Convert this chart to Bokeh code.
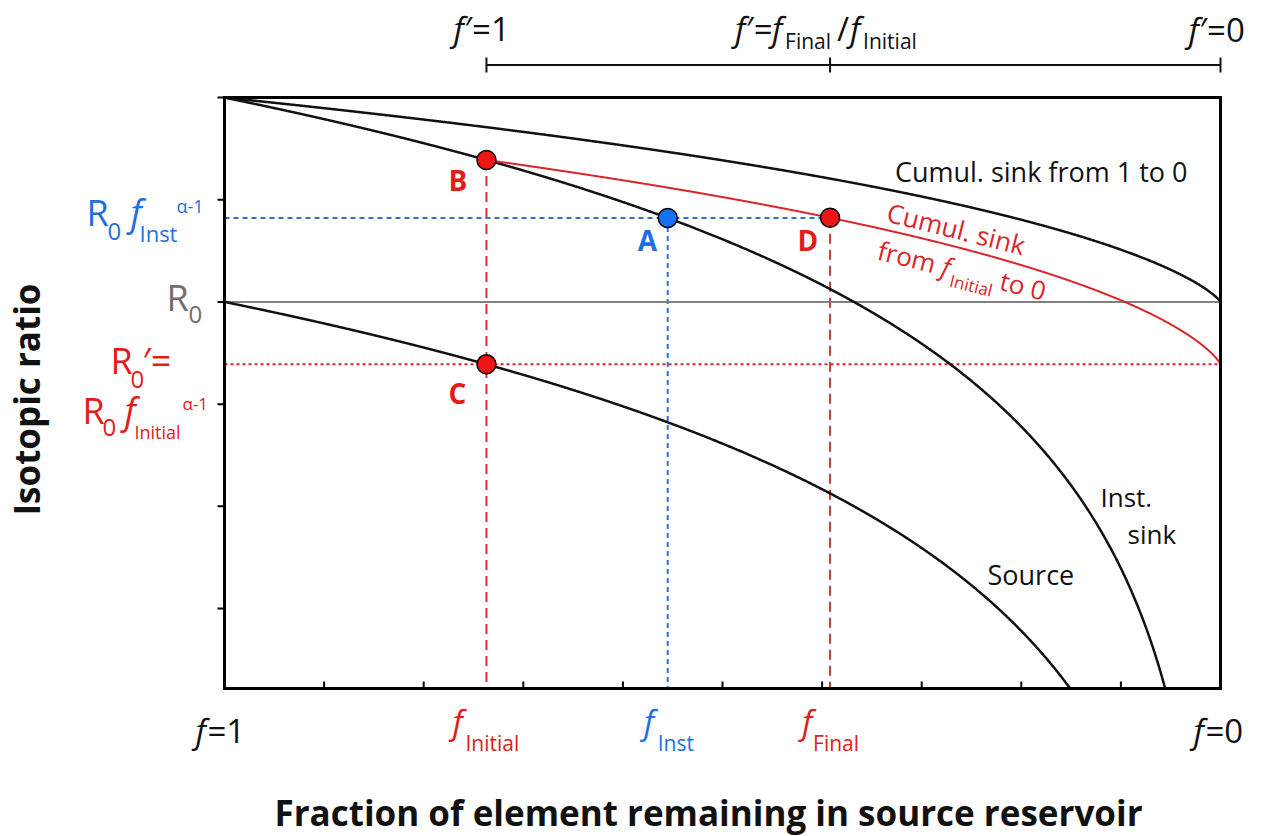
import numpy as np
from bokeh.plotting import figure
from bokeh.models import Range1d, Label
from bokeh.embed import file_html
from bokeh.resources import INLINE

# ---- Rayleigh distillation model -------------------------------------------
ALPHA = 1.001        # fractionation factor between sink and source
R0 = 1.0             # isotope ratio of the source before any removal
F_INITIAL = 0.737    # fraction remaining when the partial extraction starts
F_INST = 0.555       # fraction remaining at the instantaneous point A
F_FINAL = 0.392      # fraction remaining when the partial extraction stops

# ---- axes (x = 1 - f, y = 1000 ln(R / R0)) --------------------------------
Y_TOP = 1.0
Y_BOTTOM = -1.891
Y_TICKS = [1.0, 0.5, 0.0, -0.5, -1.0, -1.5]
X_TICKS = [0.1, 0.2, 0.3, 0.4, 0.5, 0.6, 0.7, 0.8, 0.9]
FPRIME_TICKS = [1.0, F_FINAL / F_INITIAL, 0.0]

FONT = "Open Sans"
BLACK = "#111111"
GREY_LINE = "#808080"
GREY_TEXT = "#6f6f6f"
BLUE_TEXT = "#1f6fe0"
BLUE_LINE = "#2b6fd8"
BLUE_DOT = "#1672f2"
RED_TEXT = "#e31b1b"
RED_CURVE = "#d9262b"
RED_DASH = "#c2383b"
RED_DOT = "#f01414"

# page geometry: the plotting box sits inside a canvas-wide frame so that
# the annotations around it are not clipped
W, H = 1265, 836
BOX_LEFT, BOX_RIGHT, BOX_TOP, BOX_BOTTOM = 224, 1220, 97, 688
PX_PER_X = BOX_RIGHT - BOX_LEFT
PX_PER_Y = (BOX_BOTTOM - BOX_TOP) / (Y_TOP - Y_BOTTOM)
X_START = -BOX_LEFT / PX_PER_X
X_END = 1.0 + (W - BOX_RIGHT) / PX_PER_X
Y_END = Y_TOP + BOX_TOP / PX_PER_Y
Y_START = Y_TOP - (H - BOX_TOP) / PX_PER_Y
BASELINE_LIFT = 0.36   # label anchors sit this many em above the drawn baseline


def delta(r):
    return 1000.0 * np.log(r / R0)


def cumulative(f, r_start):
    """Mean ratio of everything removed between f = 1 and f."""
    f = np.asarray(f, dtype=float)
    out = np.empty_like(f)
    edge = np.isclose(f, 1.0)
    out[edge] = ALPHA * r_start
    g = f[~edge]
    out[~edge] = r_start * (1.0 - g ** ALPHA) / (1.0 - g)
    return out


# curves, each stopped where it leaves the bottom of the box
eps = ALPHA - 1.0
f_src_end = np.exp(Y_BOTTOM / 1000.0 / eps)
f_inst_end = np.exp((Y_BOTTOM / 1000.0 - np.log(ALPHA)) / eps)
f_src = np.linspace(1.0, f_src_end, 1500)
f_inst = np.linspace(1.0, f_inst_end, 1500)
source = R0 * f_src ** eps
inst_sink = ALPHA * R0 * f_inst ** eps
fc = np.linspace(1.0, 0.0, 1500)
cum_sink = cumulative(fc, R0)

r0_prime = R0 * F_INITIAL ** eps
fp = np.linspace(1.0, 0.0, 1500)
cum_sink_partial = cumulative(fp, r0_prime)

# marked points
xI, xA, xD = 1 - F_INITIAL, 1 - F_INST, 1 - F_FINAL
yB = delta(ALPHA * r0_prime)
yA = delta(ALPHA * R0 * F_INST ** eps)
yC = delta(r0_prime)
yD = delta(cumulative([F_FINAL / F_INITIAL], r0_prime))[0]

p = figure(width=W, height=H, output_backend="svg", toolbar_location=None,
           x_range=Range1d(X_START, X_END), y_range=Range1d(Y_START, Y_END),
           x_axis_type=None, y_axis_type=None, min_border=0)
p.grid.visible = False
p.outline_line_color = None
p.background_fill_color = "white"
p.border_fill_color = "white"

# guide lines
p.line([0, xD], [yA, yA], line_color=BLUE_LINE, line_width=2, line_dash="5 4")
p.line([xA, xA], [yA, Y_BOTTOM], line_color=BLUE_LINE, line_width=2, line_dash="5 4")
p.line([0, 1], [yC, yC], line_color=RED_CURVE, line_width=2, line_dash="3 3")
p.line([xI, xI], [yB, Y_BOTTOM], line_color=RED_DASH, line_width=2, line_dash="10 6")
p.line([xD, xD], [yD, Y_BOTTOM], line_color=RED_DASH, line_width=2, line_dash="10 6")
p.line([0, 1], [0, 0], line_color=GREY_LINE, line_width=2)

# model curves
p.line(1 - f_src, delta(source), line_color=BLACK, line_width=2.5)
p.line(1 - f_inst, delta(inst_sink), line_color=BLACK, line_width=2.5)
p.line(1 - fc, delta(cum_sink), line_color=BLACK, line_width=2.5)
p.line(1 - fp * F_INITIAL, delta(cum_sink_partial), line_color=RED_CURVE, line_width=2)

# box and its ticks
p.quad(left=[0], right=[1], bottom=[Y_BOTTOM], top=[Y_TOP], fill_color=None,
       line_color="black", line_width=3, line_join="miter")
tick_y = 7 / PX_PER_Y
tick_x = 7 / PX_PER_X
p.segment(x0=X_TICKS, y0=[Y_BOTTOM] * len(X_TICKS), x1=X_TICKS,
          y1=[Y_BOTTOM + tick_y] * len(X_TICKS), line_color="black", line_width=2)
p.segment(x0=[0.0] * len(Y_TICKS), y0=Y_TICKS, x1=[-tick_x] * len(Y_TICKS),
          y1=Y_TICKS, line_color="black", line_width=2)

# f' scale of the partial extraction, drawn as a bracket above the box
fprime_x = [1 - v * F_INITIAL for v in FPRIME_TICKS]
y_br = Y_TOP + 32.5 / PX_PER_Y
half = 7.5 / PX_PER_Y
p.segment(x0=[min(fprime_x)], y0=[y_br], x1=[max(fprime_x)], y1=[y_br],
          line_color=BLACK, line_width=2)
p.segment(x0=fprime_x, y0=[y_br - half] * 3, x1=fprime_x, y1=[y_br + half] * 3,
          line_color=BLACK, line_width=2)

p.scatter([xI, xI, xD], [yB, yC, yD], marker="circle", size=19,
          fill_color=RED_DOT, line_color="black", line_width=1.5)
p.scatter([xA], [yA], marker="circle", size=19,
          fill_color=BLUE_DOT, line_color="black", line_width=1.5)


def put(text, x, y, dx, dy, size, color, style="normal", angle=0.0, align="left"):
    """Text whose baseline starts dx, dy screen pixels (y up) from data point x, y."""
    lift = BASELINE_LIFT * size
    dx -= np.sin(angle) * lift
    dy += np.cos(angle) * lift
    p.add_layout(Label(x=x + dx / PX_PER_X, y=y + dy / PX_PER_Y, text=text,
                       text_font=FONT, text_font_size=f"{size}px",
                       text_font_style=style, text_color=color,
                       text_align=align, text_baseline="alphabetic",
                       angle=angle))


MAIN, SUB = 33, 21

# f' labels above the bracket
x1p, xfp, x0p = fprime_x
put("f", x1p, Y_TOP, -33, 57, MAIN, BLACK, "italic")
put("\u2032=1", x1p, Y_TOP, -22, 57, MAIN, BLACK)
put("f", xfp, Y_TOP, -95, 57, MAIN, BLACK, "italic")
put("\u2032=", xfp, Y_TOP, -84, 57, MAIN, BLACK)
put("f", xfp, Y_TOP, -58, 57, MAIN, BLACK, "italic")
put("Final", xfp, Y_TOP, -45, 49, SUB, BLACK)
put("/", xfp, Y_TOP, 7, 57, MAIN, BLACK)
put("f", xfp, Y_TOP, 20, 57, MAIN, BLACK, "italic")
put("Initial", xfp, Y_TOP, 33, 49, SUB, BLACK)
put("f", x0p, Y_TOP, -32, 56, MAIN, BLACK, "italic")
put("\u2032=0", x0p, Y_TOP, -21, 56, MAIN, BLACK)

# f labels below the box
put("f", 0, Y_BOTTOM, -29, -54, MAIN, BLACK, "italic")
put("=1", 0, Y_BOTTOM, -17, -54, MAIN, BLACK)
put("f", 1, Y_BOTTOM, -27, -54, MAIN, BLACK, "italic")
put("=0", 1, Y_BOTTOM, -15, -54, MAIN, BLACK)
put("f", xI, Y_BOTTOM, -34, -45, MAIN, RED_TEXT, "italic")
put("Initial", xI, Y_BOTTOM, -21, -62, SUB, RED_TEXT)
put("f", xA, Y_BOTTOM, -24, -45, MAIN, BLUE_TEXT, "italic")
put("Inst", xA, Y_BOTTOM, -10, -62, SUB, BLUE_TEXT)
put("f", xD, Y_BOTTOM, -28, -45, MAIN, RED_TEXT, "italic")
put("Final", xD, Y_BOTTOM, -17, -62, SUB, RED_TEXT)

# ratio labels left of the box
put("R", 0, yA, -138, -7.5, 36, BLUE_TEXT)
put("0", 0, yA, -117, -22.5, 24, BLUE_TEXT)
put("f", 0, yA, -94, -7.5, 36, BLUE_TEXT, "italic")
put("Inst", 0, yA, -85, -22.5, 22, BLUE_TEXT)
put("\u03b1-1", 0, yA, -48, 5.5, 18, BLUE_TEXT)

put("R", 0, 0, -58, -8.6, 36, GREY_TEXT)
put("0", 0, 0, -36, -21.6, 24, GREY_TEXT)

put("R", 0, yC, -114, -9.2, 36, RED_TEXT)
put("0", 0, yC, -94, -24.2, 24, RED_TEXT)
put("\u2032=", 0, yC, -82, -9.2, 36, RED_TEXT)
put("R", 0, yC, -142, -59.2, 36, RED_TEXT)
put("0", 0, yC, -122, -72.2, 24, RED_TEXT)
put("f", 0, yC, -100, -59.2, 36, RED_TEXT, "italic")
put("Initial", 0, yC, -90, -74.2, 18, RED_TEXT)
put("\u03b1-1", 0, yC, -42, -45.2, 17, RED_TEXT)

# point letters
put("B", xI, yB, -38, -30.5, 28, RED_TEXT, "bold")
put("A", xA, yA, -30, -32.5, 28, BLUE_TEXT, "bold")
put("D", xD, yD, -32.6, -32.5, 28, RED_TEXT, "bold")
put("C", xI, yC, -38, -39.2, 28, RED_TEXT, "bold")

# curve names
put("Cumul. sink from 1 to 0", 1, Y_TOP, -33, -84, 27, BLACK, align="right")
put("Inst.", 1, Y_BOTTOM, -120, 182, 26, BLACK)
put("sink", 1, Y_BOTTOM, -93, 145, 26, BLACK)
put("Source", 1, Y_BOTTOM, -233, 104, 27, BLACK)

# tilted name of the partial cumulative sink, laid out along its baseline
tilt = np.deg2rad(14.0)
ux, uy = np.cos(tilt), -np.sin(tilt)      # along the text (screen y up)
nx, ny = -np.sin(tilt), -np.cos(tilt)     # one line further down
sx0, sy0 = 55.4, -2.9                     # start of the first line from D


def tilted(text, along, down, size, style="normal"):
    put(text, xD, yD, sx0 + along * ux + down * nx, sy0 + along * uy + down * ny,
        size, RED_CURVE, style, angle=-tilt)


tilted("Cumul. sink", 0, 0, 26)
tilted("from", 0, 39, 26)
tilted("f", 66, 39, 26, "italic")
tilted("Initial", 77, 48, 17)
tilted("to 0", 126, 39, 26)

# axis titles
put("Fraction of element remaining in source reservoir", 0.5, Y_BOTTOM,
    -14, -137, 35, BLACK, "bold", align="center")
put("Isotopic ratio", 0, (Y_TOP + Y_BOTTOM) / 2, -185, -6.5, 35, BLACK, "bold",
    angle=np.pi / 2, align="center")

open("out.html", "w").write(file_html(p, INLINE))
